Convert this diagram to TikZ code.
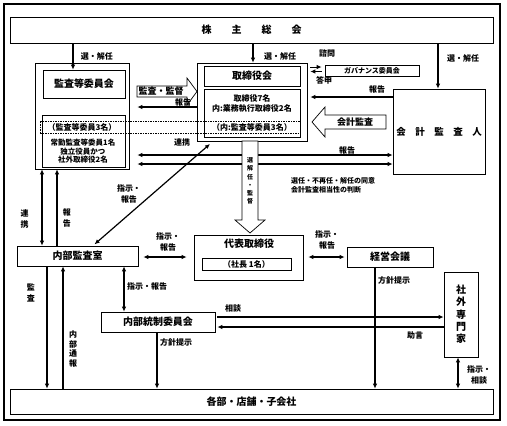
\documentclass[tikz,border=0pt]{standalone}
\usepackage{fontspec}
\setmainfont{Noto Sans CJK JP}
\usepackage{tikz}
\usetikzlibrary{positioning, arrows.meta}
\newcommand{\boxfont}{\fontsize{10}{12}\selectfont\bfseries}
\newcommand{\midfont}{\fontsize{8}{10}\selectfont\bfseries}
\newcommand{\labfont}{\fontsize{8}{10.5}\selectfont\bfseries}
\newcommand{\smallfont}{\fontsize{7}{9}\selectfont\bfseries}
\tikzset{
  unit/.style = {draw, line width = .7pt, inner sep = 0pt, font = \boxfont},
  flow/.style = {line width = 1.2pt},
  lab/.style = {font = \labfont, inner sep = 0pt, align = center},
  blockarrow/.style = {draw, line width = .7pt, fill = white}
}

\begin{document}
\begin{tikzpicture}[x = 1pt, y = -1pt, >={Latex[length = 5pt, width = 4.5pt]}]
\useasboundingbox (0,0) rectangle (507,426);
\fill[white] (0,0) rectangle (507,426);
\draw[line width = 2pt] (4,4) rectangle (500,420);

% boxes
\node[unit, minimum width = 483, minimum height = 26] (shareholders) at (251.5,30) {株　　主　　総　　会};

\node[unit, minimum width = 94, minimum height = 106] (auditOuter) at (82,116) {};
\node[unit, minimum width = 82, minimum height = 28] (auditCommittee) at (84,84) {監査等委員会};
\node[unit, minimum width = 83, minimum height = 52] (auditMembers) at (83.5,141) {};
\node[draw, dash pattern = on 1.5pt off 1pt, line width = .6pt, inner sep = 0pt, minimum width = 260, minimum height = 12] (auditDash) at (170,127) {};
\node[font = \midfont] (auditCount) at (82,127) {（監査等委員3名）};
\node[font = \fontsize{7.5}{8.6}\selectfont\bfseries, align = center] (auditDetail) at (83,151.5) {常勤監査等委員1名\\独立役員かつ\\社外取締役2名};

\node[unit, minimum width = 110, minimum height = 78] (boardOuter) at (252,102) {};
\node[unit, minimum width = 96, minimum height = 20] (board) at (252,76) {取締役会};
\node[unit, minimum width = 96, minimum height = 48] (boardMembers) at (252,113) {};
\node[font = \midfont, align = center] (boardDetail) at (252,104) {取締役7名\\内:業務執行取締役2名};
\node[font = \midfont] (boardCount) at (252,127) {（内:監査等委員3名）};

\node[unit, font = \smallfont, minimum width = 94, minimum height = 11] (governance) at (372,70.5) {ガバナンス委員会};
\node[unit, font = \fontsize{9.5}{11}\selectfont\bfseries, minimum width = 92, minimum height = 85] (auditor) at (439,131.5) {会　計　監　査　人};

\node[unit, minimum width = 121, minimum height = 20] (internalAudit) at (77.5,256) {内部監査室};
\node[unit, minimum width = 109, minimum height = 45] (president) at (248.5,257.5) {};
\node[font = \boxfont] (presidentTitle) at (249,244) {代表取締役};
\node[unit, font = \midfont, minimum width = 89, minimum height = 12] (presidentCount) at (246.5,264) {（社長 1名）};
\node[unit, minimum width = 86, minimum height = 20] (mgmtMeeting) at (390,257) {経営会議};
\node[unit, minimum width = 114, minimum height = 20] (controlCommittee) at (158,322) {内部統制委員会};
\node[unit, font = \fontsize{10}{12.3}\selectfont\bfseries, align = center, minimum width = 34, minimum height = 85] (experts) at (461,314.5) {社\\外\\専\\門\\家};
\node[unit, minimum width = 483, minimum height = 25] (divisions) at (251.5,401.5) {各部・店舗・子会社};

% connectors
\draw[flow, ->] (shareholders.south -| 73,0) -- (auditCommittee.north -| 73,0);
\draw[flow, ->] (shareholders.south -| 253,0) -- (boardOuter.north -| 253,0);
\draw[flow, ->] (shareholders.south -| 438,0) -- (auditor.north -| 438,0);
\draw[line width = 1pt, ->, shorten <= 3pt, shorten >= 3pt] (boardOuter.east |- 0,67) -- (governance.west |- 0,67);
\draw[line width = 1pt, <-, shorten <= 3pt, shorten >= 3pt] (boardOuter.east |- 0,71.5) -- (governance.west |- 0,71.5);
\draw[flow, ->, shorten >= 8pt] (boardOuter.west |- 0,107) -- (auditOuter.east |- 0,107);
\draw[flow, ->, shorten >= 3pt] (auditor.west |- 0,97) -- (boardOuter.east |- 0,97);
\draw[flow, <->, shorten <= 8pt] (auditOuter.east |- 0,155) -- (auditor.west |- 0,155);
\draw[flow, <->, shorten <= 8pt] (auditOuter.east |- 0,164) -- (auditor.west |- 0,164);
\draw[flow, <->, shorten <= 2pt, shorten >= 4pt] (internalAudit.north -| 93,0) -- (boardOuter.south -| 213,0);
\draw[flow, <->] (auditOuter.south -| 42,0) -- (internalAudit.north -| 42,0);
\draw[flow, ->] (internalAudit.north -| 57,0) -- (auditOuter.south -| 57,0);
\draw[flow, <->, shorten <= 5pt, shorten >= 7pt] (internalAudit.east |- 0,257) -- (president.west |- 0,257);
\draw[flow, <->, shorten <= 5pt, shorten >= 2pt] (president.east |- 0,257) -- (mgmtMeeting.west |- 0,257);
\draw[flow, ->] (mgmtMeeting.south -| 375,0) -- (divisions.north -| 375,0);
\draw[flow, <->] (internalAudit.south -| 124,0) -- (controlCommittee.north -| 124,0);
\draw[flow, ->, shorten <= 2pt] (controlCommittee.east |- 0,317) -- (experts.west |- 0,317);
\draw[flow, ->, shorten >= 2pt] (experts.west |- 0,327) -- (controlCommittee.east |- 0,327);
\draw[flow, ->] (controlCommittee.south -| 157,0) -- (divisions.north -| 157,0);
\draw[flow, ->] (internalAudit.south -| 47,0) -- (divisions.north -| 47,0);
\draw[flow, ->] (divisions.north -| 63,0) -- (internalAudit.south -| 63,0);
\draw[flow, <->] (experts.south -| 458,0) -- (divisions.north -| 458,0);

% block arrows
\draw[blockarrow] (137,86) -- (187,86) -- (187,78) -- (197,91.5) -- (187,105) -- (187,97) -- (137,97) -- cycle;
\node[font = \fontsize{9}{10}\selectfont\bfseries, inner sep = 0pt] (supervise) at (161,91.5) {監査・監督};
\draw[blockarrow] (386,115) -- (325,115) -- (325,107) -- (312,122) -- (325,137) -- (325,129) -- (386,129) -- cycle;
\node[font = \fontsize{9}{10}\selectfont\bfseries, inner sep = 0pt] (accounting) at (355,122) {会計監査};
\draw[blockarrow] (242,141) -- (258,141) -- (258,220) -- (265,220) -- (250,233) -- (235,220) -- (242,220) -- cycle;
\node[font = \fontsize{6}{8.3}\selectfont\bfseries, align = center, inner sep = 0pt] (appoint) at (250,181) {選\\解\\任\\・\\監\\督};

% labels
\node[lab] (elect1) at (97,56) {選・解任};
\node[lab] (elect2) at (280,56) {選・解任};
\node[lab] (elect3) at (463,58) {選・解任};
\node[lab] (consult) at (327,53) {諮問};
\node[lab] (answer) at (324,80) {答申};
\node[lab] (report1) at (183,102) {報告};
\node[lab] (report2) at (377,89) {報告};
\node[lab] (link1) at (182,142) {連携};
\node[lab] (report3) at (347,150) {報告};
\node[font = \smallfont, align = left, anchor = west, inner sep = 0pt] (consent) at (291,185.5) {選任・不再任・解任の同意\\会計監査相当性の判断};
\node[lab] (order1) at (129,194) {指示・\\報告};
\node[lab] (link2) at (24.5,219) {連\\携};
\node[lab] (report4) at (67,218) {報\\告};
\node[lab] (order2) at (168,242) {指示・\\報告};
\node[lab] (order3) at (327,240) {指示・\\報告};
\node[lab] (policy1) at (394,280) {方針提示};
\node[lab] (order4) at (147,286) {指示・報告};
\node[lab] (advice1) at (233,308) {相談};
\node[lab] (advice2) at (415,335) {助言};
\node[lab] (policy2) at (176,342) {方針提示};
\node[lab] (audit) at (31,293) {監\\査};
\node[lab, font = \fontsize{8}{9.5}\selectfont\bfseries] (whistle) at (73,349) {内\\部\\通\\報};
\node[lab] (order5) at (479,375) {指示・\\相談};
\end{tikzpicture}
\end{document}
